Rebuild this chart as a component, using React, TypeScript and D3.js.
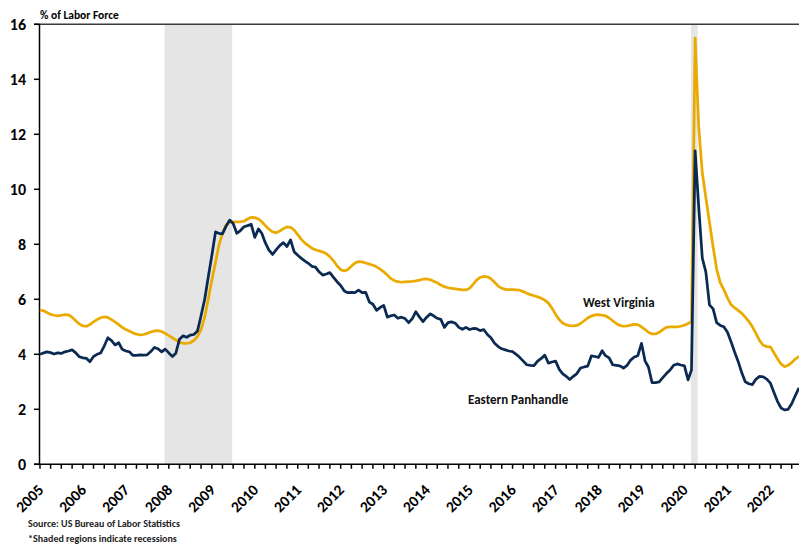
import React from 'react';
import * as d3 from 'd3';

// monthly unemployment rate, Jan 2005 - Sep 2022
const startMonth = new Date(2005, 0, 1);
const endMonth = new Date(2022, 8, 1);
const months = d3.timeMonth.range(startMonth, d3.timeMonth.offset(endMonth, 1));

const westVirginia = [
  5.61, 5.58, 5.52, 5.45, 5.42, 5.40, 5.42, 5.44, 5.43, 5.35, 5.22, 5.10,
  5.03, 5.02, 5.08, 5.18, 5.26, 5.33, 5.36, 5.34, 5.26, 5.18, 5.08, 4.98,
  4.90, 4.84, 4.78, 4.73, 4.71, 4.72, 4.76, 4.81, 4.85, 4.86, 4.83, 4.76,
  4.68, 4.60, 4.52, 4.44, 4.40, 4.40, 4.42, 4.50, 4.65, 4.90, 5.35, 6.00,
  6.70, 7.35, 7.95, 8.40, 8.70, 8.80, 8.82, 8.82, 8.82, 8.84, 8.92, 8.98,
  8.97, 8.92, 8.82, 8.68, 8.55, 8.45, 8.42, 8.48, 8.57, 8.63, 8.62, 8.52,
  8.35, 8.18, 8.05, 7.95, 7.86, 7.80, 7.76, 7.72, 7.66, 7.55, 7.40, 7.22,
  7.08, 7.03, 7.08, 7.20, 7.32, 7.37, 7.36, 7.32, 7.28, 7.24, 7.18, 7.10,
  7.00, 6.88, 6.76, 6.68, 6.64, 6.62, 6.63, 6.64, 6.65, 6.67, 6.70, 6.73,
  6.74, 6.71, 6.66, 6.60, 6.52, 6.46, 6.42, 6.40, 6.38, 6.36, 6.34, 6.34,
  6.40, 6.55, 6.70, 6.80, 6.83, 6.82, 6.75, 6.62, 6.48, 6.40, 6.36, 6.35,
  6.35, 6.34, 6.33, 6.28, 6.22, 6.17, 6.13, 6.09, 6.04, 5.97, 5.86, 5.68,
  5.45, 5.26, 5.14, 5.07, 5.04, 5.03, 5.05, 5.12, 5.22, 5.32, 5.39, 5.43,
  5.44, 5.42, 5.40, 5.32, 5.22, 5.12, 5.05, 5.02, 5.03, 5.06, 5.09, 5.08,
  5.00, 4.90, 4.80, 4.74, 4.74, 4.80, 4.90, 4.98, 5.00, 5.00, 5.00, 5.02,
  5.06, 5.12, 5.18, 15.50, 12.30, 10.60, 9.70, 8.80, 7.90, 7.10, 6.60, 6.35,
  6.05, 5.80, 5.70, 5.60, 5.50, 5.35, 5.20, 5.00, 4.75, 4.50, 4.33, 4.28,
  4.27, 4.05, 3.85, 3.65, 3.55, 3.60, 3.70, 3.83, 3.93,
];

const easternPanhandle = [
  4.00, 4.05, 4.09, 4.06, 4.01, 4.05, 4.03, 4.09, 4.12, 4.16, 4.05, 3.91,
  3.87, 3.85, 3.73, 3.92, 4.00, 4.05, 4.30, 4.60, 4.50, 4.34, 4.42, 4.18,
  4.12, 4.09, 3.96, 3.96, 3.98, 3.97, 3.98, 4.10, 4.25, 4.20, 4.09, 4.19,
  4.05, 3.92, 4.04, 4.55, 4.67, 4.62, 4.70, 4.72, 4.85, 5.40, 6.00, 6.80,
  7.60, 8.45, 8.40, 8.38, 8.65, 8.88, 8.76, 8.40, 8.50, 8.64, 8.68, 8.73,
  8.25, 8.56, 8.40, 8.05, 7.79, 7.63, 7.80, 7.95, 8.06, 7.92, 8.16, 7.73,
  7.60, 7.49, 7.40, 7.31, 7.20, 7.17, 7.00, 6.88, 6.92, 6.97, 6.80, 6.64,
  6.50, 6.30, 6.24, 6.25, 6.24, 6.33, 6.24, 6.25, 5.90, 5.82, 5.60, 5.70,
  5.78, 5.35, 5.40, 5.43, 5.31, 5.35, 5.30, 5.15, 5.30, 5.55, 5.35, 5.19,
  5.35, 5.47, 5.40, 5.31, 5.27, 4.98, 5.15, 5.18, 5.13, 4.98, 4.91, 4.98,
  4.90, 4.94, 4.93, 4.86, 4.90, 4.72, 4.60, 4.40, 4.28, 4.20, 4.16, 4.12,
  4.10, 4.00, 3.89, 3.75, 3.62, 3.60, 3.59, 3.75, 3.85, 3.97, 3.68, 3.72,
  3.75, 3.45, 3.30, 3.20, 3.08, 3.20, 3.30, 3.50, 3.54, 3.57, 3.94, 3.92,
  3.89, 4.13, 3.95, 3.87, 3.62, 3.60, 3.58, 3.50, 3.60, 3.79, 3.90, 3.95,
  4.40, 3.75, 3.54, 2.97, 2.97, 3.00, 3.15, 3.30, 3.43, 3.60, 3.65, 3.61,
  3.58, 3.07, 3.43, 11.40, 9.40, 7.50, 7.00, 5.80, 5.65, 5.15, 5.05, 5.00,
  4.80, 4.45, 4.10, 3.75, 3.35, 3.00, 2.93, 2.90, 3.10, 3.20, 3.18, 3.10,
  2.95, 2.60, 2.30, 2.05, 1.98, 2.00, 2.20, 2.50, 2.78,
];

const yTicks = [0, 2, 4, 6, 8, 10, 12, 14, 16];
const yearLabels = d3.range(2005, 2023).map(String);
const recessions = [
  { start: new Date(2007, 11, 1), end: new Date(2009, 5, 1) },
  { start: new Date(2020, 2, 1), end: new Date(2020, 3, 1) },
];

const width = 799;
const height = 544;
const font = 'Calibri, Carlito, Lato, sans-serif';
const gold = '#EAAA00';
const navy = '#0B2A52';

export default function App() {
  const x = d3.scaleTime().domain([startMonth, endMonth]).range([40, 799]);
  const y = d3.scaleLinear().domain([0, 16]).range([464.3, 24.3]);

  const line = d3
    .line<number>()
    .x((d, i) => x(months[i]))
    .y((d) => y(d));

  const quarterTicks = d3.timeMonth.every(3)!.range(startMonth, d3.timeDay.offset(endMonth, 1));

  return (
    <svg width={width} height={height} style={{ position: 'absolute', left: 0, top: 0 }} fontFamily={font}>
      <rect width={width} height={height} fill="#fff" />

      {recessions.map((r, i) => (
        <rect
          key={i}
          x={x(r.start) - 0.6}
          y={y(16)}
          width={x(d3.timeMonth.offset(r.end, 1)) - 1 - (x(r.start) - 0.6)}
          height={y(0) - y(16)}
          fill="#E5E5E5"
        />
      ))}

      {/* top border at 16 */}
      <line x1={34} x2={799} y1={y(16)} y2={y(16)} stroke="#3a3a3a" strokeWidth={1.5} />

      {/* y axis */}
      <line x1={39.5} x2={39.5} y1={y(16)} y2={y(0)} stroke="#000" strokeWidth={1.5} />
      {yTicks.map((t) => (
        <g key={t}>
          <line x1={34} x2={39.5} y1={y(t)} y2={y(t)} stroke="#000" strokeWidth={1.5} />
          <text x={26} y={y(t)} dy="0.35em" textAnchor="end" fontSize={16} fontWeight={700} fill="#000">
            {t}
          </text>
        </g>
      ))}
      <text x={40} y={19} fontSize={11.5} fontWeight={700} fill="#000">
        % of Labor Force
      </text>

      <path d={line(westVirginia) ?? ''} fill="none" stroke={gold} strokeWidth={2.75} strokeLinejoin="round" />
      <path d={line(easternPanhandle) ?? ''} fill="none" stroke={navy} strokeWidth={2.75} strokeLinejoin="round" />

      {/* x axis */}
      <line x1={34} x2={799} y1={y(0)} y2={y(0)} stroke="#000" strokeWidth={1.5} />
      {quarterTicks.map((d, i) => (
        <line key={i} x1={x(d)} x2={x(d)} y1={y(0)} y2={y(0) + 4.5} stroke="#000" strokeWidth={1.5} />
      ))}
      {yearLabels.map((yr) => {
        const px = x(new Date(+yr, 0, 1)) + 4.5;
        const py = 491;
        return (
          <g key={yr} transform={`translate(${px},${py}) rotate(-45)`}>
            <text x={0} y={0} textAnchor="end" fontSize={15.5} fontWeight={700} fill="#000">
              {yr}
            </text>
          </g>
        );
      })}

      <text x={583} y={307} fontSize={13} fontWeight={700} fill="#111">
        West Virginia
      </text>
      <text x={468} y={404} fontSize={13} fontWeight={700} fill="#111">
        Eastern Panhandle
      </text>

      <text x={28} y={527} fontSize={10} fontWeight={700} fill="#222">
        Source: US Bureau of Labor Statistics
      </text>
      <text x={28} y={542} fontSize={10} fontWeight={700} fill="#222">
        *Shaded regions indicate recessions
      </text>
    </svg>
  );
}
